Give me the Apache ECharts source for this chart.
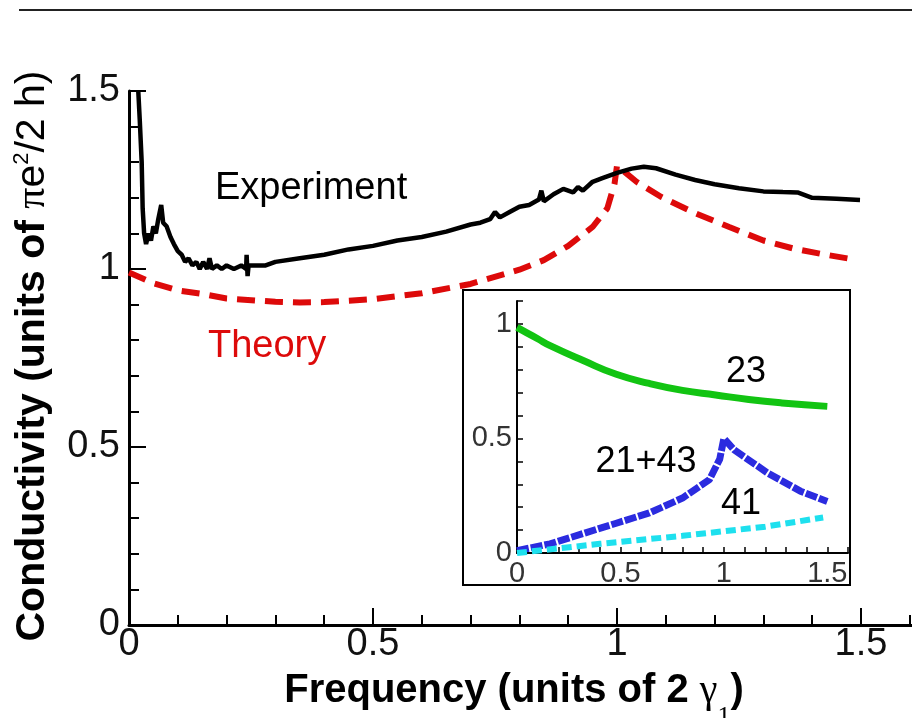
<!DOCTYPE html>
<html>
<head>
<meta charset="utf-8">
<script src="https://cdn.jsdelivr.net/npm/echarts@6/dist/echarts.min.js"></script>
<style>
  html, body { margin: 0; padding: 0; background: #fff; }
  #chart { width: 912px; height: 718px; }
</style>
</head>
<body>
<div id="chart"></div>
<script>
// main panel: measured conductivity
var expX = [0.019, 0.022, 0.026, 0.028, 0.031, 0.035, 0.040, 0.045, 0.050, 0.055, 0.060, 0.066, 0.070, 0.077,
  0.085, 0.092, 0.100, 0.108, 0.115, 0.122, 0.130, 0.138, 0.145, 0.152, 0.160, 0.165, 0.170, 0.180, 0.190,
  0.200, 0.215, 0.230, 0.240, 0.241, 0.243, 0.245, 0.26, 0.28, 0.30, 0.35, 0.40, 0.45, 0.50, 0.55, 0.60,
  0.65, 0.70, 0.72, 0.74, 0.75, 0.76, 0.78, 0.80, 0.82, 0.84, 0.845, 0.85, 0.87, 0.89, 0.91, 0.92, 0.93,
  0.95, 0.97, 1.00, 1.03, 1.055, 1.08, 1.12, 1.16, 1.20, 1.25, 1.30, 1.34, 1.37, 1.40, 1.45, 1.498];
var expY = [1.50, 1.42, 1.30, 1.17, 1.10, 1.07, 1.10, 1.08, 1.12, 1.10, 1.14, 1.18, 1.13, 1.12,
  1.09, 1.07, 1.05, 1.04, 1.02, 1.03, 1.01, 1.02, 1.00, 1.02, 1.00, 1.03, 1.00, 1.01, 1.00,
  1.01, 1.00, 1.01, 1.00, 1.04, 0.98, 1.01, 1.01, 1.01, 1.02, 1.03, 1.04, 1.055, 1.065, 1.08, 1.09,
  1.105, 1.125, 1.13, 1.14, 1.16, 1.145, 1.16, 1.175, 1.18, 1.195, 1.22, 1.19, 1.21, 1.225, 1.215, 1.23, 1.22,
  1.245, 1.255, 1.27, 1.282, 1.287, 1.283, 1.265, 1.25, 1.238, 1.227, 1.218, 1.216, 1.215, 1.20, 1.197, 1.194];

// main panel: theory
var thX = [0, 0.05, 0.1, 0.15, 0.2, 0.3, 0.35, 0.4, 0.5, 0.6, 0.7, 0.8, 0.85, 0.9, 0.95, 0.98, 0.995, 1.0,
  1.04, 1.09, 1.16, 1.23, 1.30, 1.36, 1.42, 1.48];
var thY = [0.99, 0.96, 0.94, 0.93, 0.917, 0.908, 0.906, 0.907, 0.915, 0.932, 0.958, 0.998, 1.025, 1.065,
  1.118, 1.17, 1.24, 1.29, 1.245, 1.203, 1.157, 1.118, 1.08, 1.058, 1.042, 1.028];

// inset: contributions
var g23X = [0, 0.05, 0.1, 0.16, 0.32, 0.48, 0.64, 0.8, 0.96, 1.12, 1.28, 1.5];
var g23Y = [0.985, 0.96, 0.935, 0.905, 0.84, 0.78, 0.74, 0.71, 0.69, 0.67, 0.655, 0.64];
var b2143X = [0, 0.16, 0.32, 0.48, 0.64, 0.8, 0.93, 0.98, 1.0, 1.05, 1.21, 1.37, 1.5];
var b2143Y = [0.01, 0.04, 0.085, 0.13, 0.175, 0.24, 0.32, 0.41, 0.5, 0.45, 0.35, 0.27, 0.225];
var c41X = [0, 0.4, 0.8, 1.2, 1.48];
var c41Y = [0, 0.04, 0.075, 0.115, 0.155];

var mainTicks = [0, 0.5, 1, 1.5];

function pairs(xs, ys) {
  return xs.map(function (x, i) { return [x, ys[i]]; });
}
function halfStep(v) {
  return Math.abs(v * 2 - Math.round(v * 2)) < 1e-6 ? String(+v.toFixed(1)) : '';
}

var chart = echarts.init(document.getElementById('chart'));
var sans = 'Liberation Sans, Arial, sans-serif';
var serif = 'Liberation Serif, DejaVu Serif, serif';

var option = {
  backgroundColor: '#fff',
  animation: false,
  grid: [
    { left: 129, top: 91, height: 534, width: 976, containLabel: false, outerBoundsMode: 'none' },
    { left: 517, top: 301, height: 252, width: 331, containLabel: false, outerBoundsMode: 'none' }
  ],
  xAxis: [
    {
      gridIndex: 0, type: 'value', min: 0, max: 2, interval: 0.5,
      axisLine: { lineStyle: { color: '#000', width: 3 } },
      axisTick: { inside: true, length: 17, lineStyle: { color: '#000', width: 2 } },
      minorTick: { show: true, splitNumber: 5, length: 10, lineStyle: { color: '#000', width: 2 } },
      splitLine: { show: false },
      axisLabel: {
        margin: 1, color: '#111', fontSize: 38, fontFamily: sans,
        formatter: function (v) { return mainTicks.indexOf(v) >= 0 ? String(v) : ''; }
      },
      name: '{a|Frequency (units of 2 }{g|γ}{s|1}{a|)}',
      nameLocation: 'middle',
      nameGap: 27,
      nameMoveOverlap: false,
      nameTextStyle: {
        padding: [0, 206, 0, 0],
        rich: {
          a: { fontSize: 40, fontWeight: 'bold', fontFamily: sans, color: '#000' },
          g: { fontSize: 40, fontFamily: serif, color: '#000' },
          s: { fontSize: 26, fontFamily: serif, color: '#000', padding: [52, 0, 0, 0] }
        }
      }
    },
    {
      gridIndex: 1, type: 'value', min: 0, max: 1.6, interval: 0.1, z: 10,
      axisLine: { lineStyle: { color: '#000', width: 2 } },
      axisTick: { inside: true, length: 6, lineStyle: { color: '#000', width: 1.5 } },
      splitLine: { show: false },
      axisLabel: { margin: 6, color: '#333', fontSize: 29, fontFamily: sans, formatter: halfStep }
    }
  ],
  yAxis: [
    {
      gridIndex: 0, type: 'value', min: 0, max: 1.5, interval: 0.5,
      axisLine: { show: true, lineStyle: { color: '#000', width: 3 } },
      axisTick: { show: true, inside: true, length: 17, lineStyle: { color: '#000', width: 2 } },
      minorTick: { show: true, splitNumber: 5, length: 10, lineStyle: { color: '#000', width: 2 } },
      splitLine: { show: false },
      axisLabel: { margin: 9, color: '#111', fontSize: 38, fontFamily: sans },
      name: '{a|Conductivity (units of }{p|π}{b|e}{sup|2}{b|/2 h)}',
      nameLocation: 'middle',
      nameGap: 74,
      nameTextStyle: {
        padding: [0, 0, 0, 4],
        rich: {
          a: { fontSize: 41, fontWeight: 'bold', fontFamily: sans, color: '#000' },
          p: { fontSize: 42, fontFamily: serif, color: '#000' },
          b: { fontSize: 41, fontFamily: sans, color: '#000' },
          sup: { fontSize: 22, fontFamily: sans, color: '#000', padding: [0, 0, 22, 0] }
        }
      }
    },
    {
      gridIndex: 1, type: 'value', min: 0, max: 1.1, interval: 0.1, z: 10,
      axisLine: { show: true, lineStyle: { color: '#000', width: 2 } },
      axisTick: { show: true, inside: true, length: 6, lineStyle: { color: '#000', width: 1.5 } },
      splitLine: { show: false },
      axisLabel: { margin: 5, color: '#333', fontSize: 29, fontFamily: sans, formatter: halfStep }
    }
  ],
  graphic: [
    { type: 'line', z: 1, shape: { x1: 19, y1: 10, x2: 912, y2: 10 }, style: { stroke: '#222', lineWidth: 2 } },
    { type: 'rect', z: 5, shape: { x: 463, y: 290, width: 387, height: 295 },
      style: { fill: '#fff', stroke: '#000', lineWidth: 2 } },
    { type: 'text', z: 20, style: { text: 'Experiment', x: 215, y: 189, textAlign: 'left', textVerticalAlign: 'middle',
      font: '38px Liberation Sans, Arial, sans-serif', fill: '#000' } },
    { type: 'text', z: 20, style: { text: 'Theory', x: 208, y: 347, textAlign: 'left', textVerticalAlign: 'middle',
      font: '38px Liberation Sans, Arial, sans-serif', fill: '#dd0a0a' } },
    { type: 'text', z: 20, style: { text: '23', x: 746, y: 372, textAlign: 'center', textVerticalAlign: 'middle',
      font: '36px Liberation Sans, Arial, sans-serif', fill: '#000' } },
    { type: 'text', z: 20, style: { text: '21+43', x: 646, y: 462, textAlign: 'center', textVerticalAlign: 'middle',
      font: '36px Liberation Sans, Arial, sans-serif', fill: '#000' } },
    { type: 'text', z: 20, style: { text: '41', x: 741, y: 504, textAlign: 'center', textVerticalAlign: 'middle',
      font: '36px Liberation Sans, Arial, sans-serif', fill: '#000' } }
  ],
  series: [
    {
      name: 'Theory', type: 'line', xAxisIndex: 0, yAxisIndex: 0, showSymbol: false, z: 2,
      data: pairs(thX, thY),
      lineStyle: { color: '#dd0a0a', width: 6, type: [18, 10] }
    },
    {
      name: 'Experiment', type: 'line', xAxisIndex: 0, yAxisIndex: 0, showSymbol: false, z: 3,
      data: pairs(expX, expY),
      lineStyle: { color: '#000', width: 4.5 }
    },
    {
      name: '23', type: 'line', xAxisIndex: 1, yAxisIndex: 1, showSymbol: false, z: 10, smooth: true,
      data: pairs(g23X, g23Y),
      lineStyle: { color: '#12c412', width: 7 }
    },
    {
      name: '21+43', type: 'line', xAxisIndex: 1, yAxisIndex: 1, showSymbol: false, z: 10,
      data: pairs(b2143X, b2143Y),
      lineStyle: { color: '#2b2bdf', width: 7, type: [12, 2] }
    },
    {
      name: '41', type: 'line', xAxisIndex: 1, yAxisIndex: 1, showSymbol: false, z: 10,
      data: pairs(c41X, c41Y),
      lineStyle: { color: '#1ee0ee', width: 6, type: [10, 5] }
    }
  ]
};

chart.setOption(option);
window.addEventListener('resize', function () { chart.resize(); });
</script>
</body>
</html>
